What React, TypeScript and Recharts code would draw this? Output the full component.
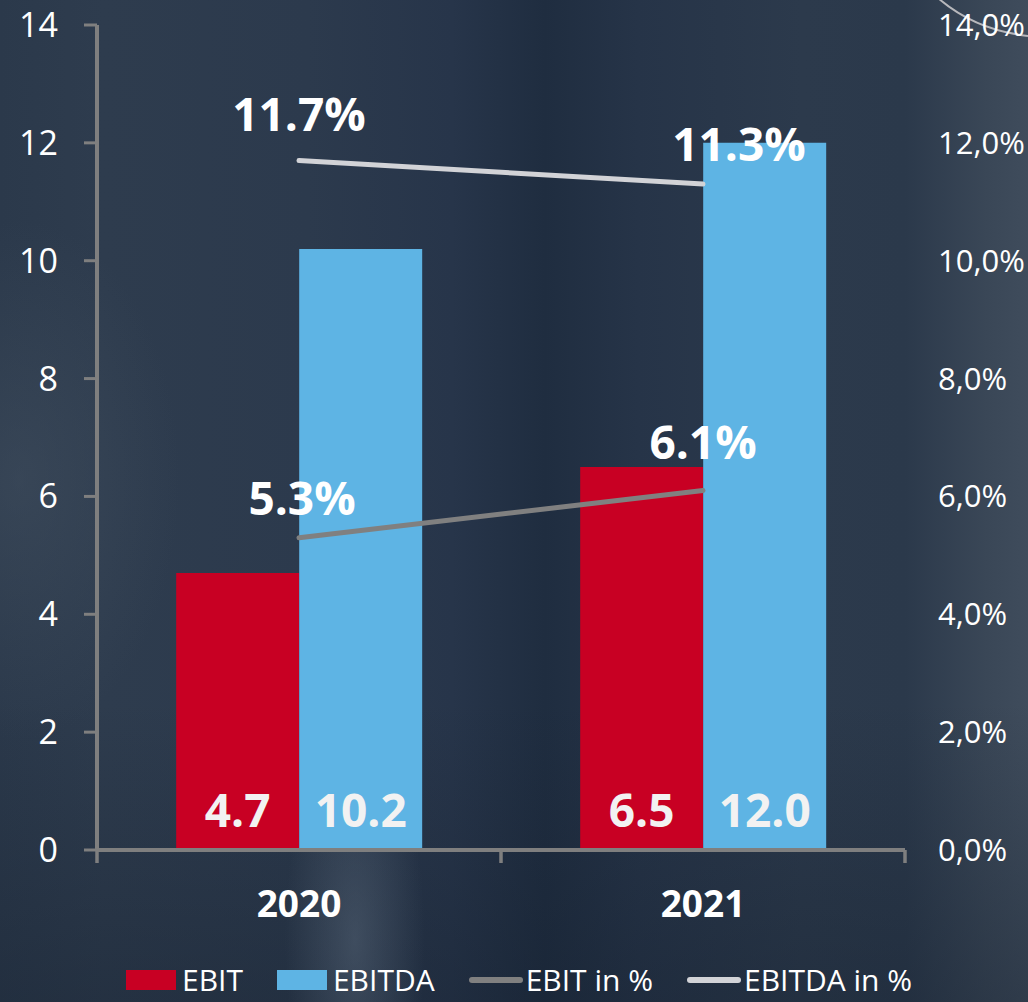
import React from "react"
import { ComposedChart, Bar, Line, XAxis, YAxis, LabelList } from "recharts"

const YEARS = ["2020", "2021"]
const EBIT = [4.7, 6.5]
const EBITDA = [10.2, 12.0]
const EBIT_PCT = [5.3, 6.1]
const EBITDA_PCT = [11.7, 11.3]
const LEFT_TICKS = [0, 2, 4, 6, 8, 10, 12, 14]
const RIGHT_TICKS = [0, 2, 4, 6, 8, 10, 12, 14]
const SERIES_NAMES = ["EBIT", "EBITDA", "EBIT in %", "EBITDA in %"]

const RED = "#C80023"
const BLUE = "#5EB4E4"
const GREY = "#808080"
const LIGHT = "#D2D3D7"
const AXIS = "#7F7F7F"
const FONT = "'Open Sans', 'Noto Sans', sans-serif"

// label nudges for the percent labels (style only)
const PCT_SHIFT = {
  ebitPct: [{ dx: 3, dy: -23 }, { dx: 0, dy: -32 }],
  ebitdaPct: [{ dx: 0, dy: -30 }, { dx: 36, dy: -23 }],
}

const data = YEARS.map((year, i) => ({
  year,
  ebit: EBIT[i],
  ebitda: EBITDA[i],
  ebitPct: EBIT_PCT[i],
  ebitdaPct: EBITDA_PCT[i],
}))

const YearTick = (props: any) => {
  const { x, y, payload, index } = props
  const half = payload?.offset || 202
  return (
    <g>
      <line x1={x - half} x2={x - half} y1={y} y2={y + 13} stroke={AXIS} strokeWidth={3.5} />
      {index === YEARS.length - 1 && (
        <line x1={x + half} x2={x + half} y1={y} y2={y + 13} stroke={AXIS} strokeWidth={3.5} />
      )}
      <text x={x} y={y + 67} textAnchor="middle" fill="#FFFFFF" fontSize={37} fontWeight={700} fontFamily={FONT}>
        {payload.value}
      </text>
    </g>
  )
}

const barValueLabel = (props: any) => {
  const { x, y, width, height, value } = props
  return (
    <text
      x={x + width / 2}
      y={y + height - 23}
      textAnchor="middle"
      fill="#F2F2F2"
      fontSize={46}
      fontWeight={700}
      fontFamily={FONT}
    >
      {Number(value).toFixed(1)}
    </text>
  )
}

const pctLabel = (key: "ebitPct" | "ebitdaPct") => (props: any) => {
  const { x, y, value, index } = props
  const s = PCT_SHIFT[key][index] || { dx: 0, dy: -28 }
  return (
    <text
      x={x + s.dx}
      y={y + s.dy}
      textAnchor="middle"
      fill="#FFFFFF"
      fontSize={46}
      fontWeight={700}
      fontFamily={FONT}
    >
      {Number(value).toFixed(1)}%
    </text>
  )
}

const LEGEND_MARKS = [
  { kind: "box", color: RED },
  { kind: "box", color: BLUE },
  { kind: "line", color: GREY },
  { kind: "line", color: LIGHT },
]

export default function App() {
  return (
    <div
      style={{
        position: "absolute",
        left: 0,
        top: 0,
        width: 1028,
        height: 1002,
        overflow: "hidden",
        fontFamily: FONT,
        background:
          "radial-gradient(ellipse 70px 220px at 355px 940px, rgba(85,100,118,0.55), rgba(85,100,118,0)), " +
          "radial-gradient(ellipse 160px 260px at 20px 480px, rgba(70,84,100,0.45), rgba(70,84,100,0)), " +
          "linear-gradient(180deg, rgba(0,0,0,0) 70%, rgba(18,28,42,0.35) 100%), " +
          "linear-gradient(90deg, #2b394b 0%, #2e3c4e 10%, #2c3a4d 30%, #27354a 44%, #1f2d40 53%, #263448 62%, #2c3a4c 78%, #2b394b 88%, #3a4757 96%, #3f4c5c 100%)",
      }}
    >
      <svg width={1028} height={60} style={{ position: "absolute", left: 0, top: 0 }}>
        <path d="M 938 -2 Q 975 30 1028 36" fill="none" stroke="#B8B8BC" strokeWidth={2} />
      </svg>
      <ComposedChart
        width={1028}
        height={1002}
        data={data}
        margin={{ top: 25, right: 0, bottom: 0, left: 0 }}
        barCategoryGap="19.6%"
        barGap={0}
      >
        <XAxis
          dataKey="year"
          height={152}
          axisLine={{ stroke: AXIS, strokeWidth: 4 }}
          tickLine={false}
          tickSize={0}
          tickMargin={0}
          tick={<YearTick />}
          interval={0}
        />
        <YAxis
          yAxisId="left"
          width={97}
          domain={[0, 14]}
          ticks={LEFT_TICKS}
          interval={0}
          axisLine={{ stroke: AXIS, strokeWidth: 4 }}
          tickLine={{ stroke: AXIS, strokeWidth: 3 }}
          tickSize={13}
          tickMargin={26}
          tick={{ fill: "#FFFFFF", fontSize: 34, fontFamily: FONT }}
        />
        <YAxis
          yAxisId="right"
          orientation="right"
          width={123}
          domain={[0, 14]}
          ticks={RIGHT_TICKS}
          interval={0}
          axisLine={false}
          tickLine={false}
          tickSize={0}
          tickMargin={33}
          tickFormatter={(v: number) => `${v.toFixed(1).replace(".", ",")}%`}
          tick={{ fill: "#FFFFFF", fontSize: 31, fontFamily: FONT, textAnchor: "start" }}
        />
        <Bar yAxisId="left" dataKey="ebit" name={SERIES_NAMES[0]} fill={RED} isAnimationActive={false}>
          <LabelList dataKey="ebit" content={barValueLabel} />
        </Bar>
        <Bar yAxisId="left" dataKey="ebitda" name={SERIES_NAMES[1]} fill={BLUE} isAnimationActive={false}>
          <LabelList dataKey="ebitda" content={barValueLabel} />
        </Bar>
        <Line
          yAxisId="right"
          dataKey="ebitPct"
          name={SERIES_NAMES[2]}
          stroke={GREY}
          strokeWidth={5}
          strokeLinecap="round"
          dot={false}
          activeDot={false}
          isAnimationActive={false}
        >
          <LabelList dataKey="ebitPct" content={pctLabel("ebitPct")} />
        </Line>
        <Line
          yAxisId="right"
          dataKey="ebitdaPct"
          name={SERIES_NAMES[3]}
          stroke={LIGHT}
          strokeWidth={5}
          strokeLinecap="round"
          dot={false}
          activeDot={false}
          isAnimationActive={false}
        >
          <LabelList dataKey="ebitdaPct" content={pctLabel("ebitdaPct")} />
        </Line>
      </ComposedChart>
      <div
        style={{
          position: "absolute",
          left: 126,
          top: 965,
          display: "flex",
          alignItems: "center",
          gap: 34,
          fontSize: 30,
          lineHeight: "30px",
          color: "#FFFFFF",
          whiteSpace: "nowrap",
        }}
      >
        {SERIES_NAMES.map((name, i) => (
          <div key={name} style={{ display: "flex", alignItems: "center" }}>
            {LEGEND_MARKS[i].kind === "box" ? (
              <div style={{ width: 50, height: 20, background: LEGEND_MARKS[i].color, marginRight: 6 }} />
            ) : (
              <div
                style={{ width: 54, height: 6, borderRadius: 3, background: LEGEND_MARKS[i].color, marginRight: 3 }}
              />
            )}
            <span>{name}</span>
          </div>
        ))}
      </div>
    </div>
  )
}
